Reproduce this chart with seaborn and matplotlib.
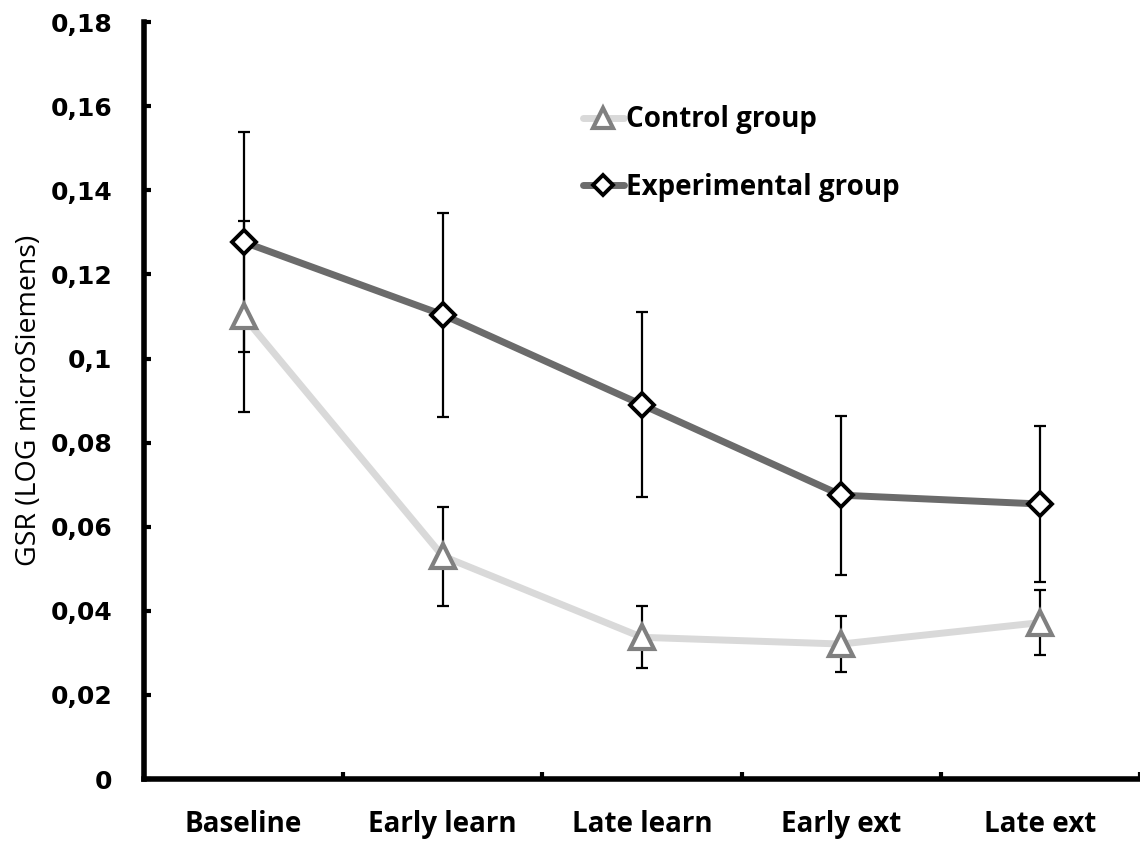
import matplotlib
matplotlib.use("Agg")
import matplotlib.pyplot as plt
import seaborn as sns
import pandas as pd
from matplotlib.lines import Line2D
from matplotlib.ticker import FixedLocator

categories = ["Baseline", "Early learn", "Late learn", "Early ext", "Late ext"]
control_mean = [0.110, 0.053, 0.0337, 0.0321, 0.0372]
control_err = [0.0226, 0.0118, 0.0074, 0.0067, 0.0078]
exp_mean = [0.1277, 0.1104, 0.0890, 0.0675, 0.0654]
exp_err = [0.0261, 0.0243, 0.0220, 0.0189, 0.0185]
ytick_vals = [0, 0.02, 0.04, 0.06, 0.08, 0.10, 0.12, 0.14, 0.16, 0.18]
ytick_labels = ["0", "0,02", "0,04", "0,06", "0,08", "0,1", "0,12", "0,14", "0,16", "0,18"]

sns.set_theme(style="white")
plt.rcParams['font.family'] = ['Open Sans', 'DejaVu Sans']
plt.rcParams['text.color'] = 'black'
plt.rcParams['axes.labelcolor'] = 'black'

pos = list(range(len(categories)))
df_c = pd.DataFrame({"x": pos, "y": control_mean})
df_e = pd.DataFrame({"x": pos, "y": exp_mean})

fig = plt.figure(figsize=(11.4, 8.41), dpi=100)
ax = fig.add_axes([0.1263, 0.0737, 0.8737, 0.900])

c_line = "#d9d9d9"
c_mark = "#808080"
e_line = "#6b6b6b"

sns.lineplot(data=df_c, x="x", y="y", ax=ax, color=c_line, linewidth=5, zorder=2)
sns.lineplot(data=df_e, x="x", y="y", ax=ax, color=e_line, linewidth=5, zorder=2)

ax.errorbar(pos, control_mean, yerr=control_err, fmt="none", ecolor="black",
            elinewidth=1.6, capsize=4, capthick=1.6, zorder=3)
ax.errorbar(pos, exp_mean, yerr=exp_err, fmt="none", ecolor="black",
            elinewidth=1.6, capsize=4, capthick=1.6, zorder=3)

ax.plot(pos, control_mean, linestyle="none", marker="^", markersize=17,
        markerfacecolor="white", markeredgecolor=c_mark, markeredgewidth=3, zorder=4)
ax.plot(pos, exp_mean, linestyle="none", marker="D", markersize=12,
        markerfacecolor="white", markeredgecolor="black", markeredgewidth=2.8, zorder=4)

ax.set_xlim(-0.5, 4.5)
ax.set_ylim(0, 0.18)

ax.set_xticks(pos)
ax.set_xticklabels(categories, fontsize=20, fontweight="bold", color="black")
ax.xaxis.set_minor_locator(FixedLocator([0.5, 1.5, 2.5, 3.5, 4.5]))
ax.tick_params(axis="x", which="major", length=0, pad=22)
ax.tick_params(axis="x", which="minor", direction="in", length=5, width=3, color="black", bottom=True)

ax.set_yticks(ytick_vals)
ax.set_yticklabels(ytick_labels, fontsize=18, fontweight="bold", family="DejaVu Sans", color="black")
ax.tick_params(axis="y", direction="in", length=5, width=3, color="black", left=True, pad=23)

ax.set_xlabel("")
ax.set_ylabel("GSR (LOG microSiemens)", fontsize=20.5, color="black", labelpad=5)

for s in ["top", "right"]:
    ax.spines[s].set_visible(False)
for s in ["left", "bottom"]:
    ax.spines[s].set_color("black")
    ax.spines[s].set_linewidth(4)

handles = [
    Line2D([], [], color=c_line, linewidth=5, marker="^", markersize=14,
           markerfacecolor="white", markeredgecolor=c_mark, markeredgewidth=3),
    Line2D([], [], color=e_line, linewidth=5, marker="D", markersize=10,
           markerfacecolor="white", markeredgecolor="black", markeredgewidth=2.8),
]
leg = ax.legend(handles, ["Control group", "Experimental group"], loc="upper left",
                bbox_to_anchor=(0.416, 0.923), frameon=False, handlelength=1.45,
                handletextpad=0.1, labelspacing=1.39, labelcolor="black",
                prop={"family": "Open Sans", "weight": "bold", "size": 20})

fig.savefig("out.png", dpi=100, facecolor="white")
